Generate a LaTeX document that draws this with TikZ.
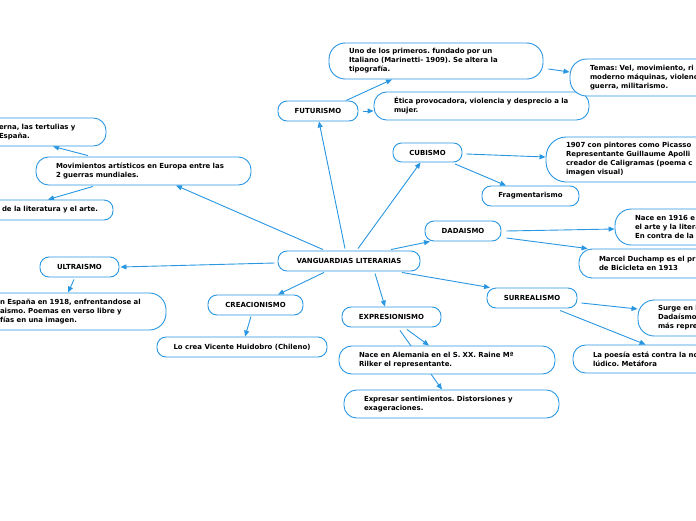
\documentclass[tikz,border=0pt]{standalone}
\usepackage{fontspec}
\setmainfont{DejaVu Sans}[BoldFont={DejaVu Sans Bold}]
\usetikzlibrary{arrows.meta,calc}
\definecolor{mblue}{RGB}{40,150,225}
\pgfdeclarelayer{bg}\pgfsetlayers{bg,main}
\frenchspacing
\tikzset{
  box/.style={draw=mblue, line width=0.9pt, fill=white, inner sep=0pt,
    font=\bfseries\fontsize{6.95}{9}\selectfont, text=black},
  arr/.style={draw=mblue, line width=0.9pt, -{Triangle[length=6pt,width=5pt]}}
}
% left-aligned box: name, x1,y1,x2,y2, text
\newcommand\lbox[6]{%
  \pgfmathsetmacro\cx{(#2+#4)/2}\pgfmathsetmacro\cy{(#3+#5)/2}%
  \pgfmathsetmacro\ww{#4-#2}\pgfmathsetmacro\hh{#5-#3}%
  \pgfmathsetmacro\rr{0.45*(#5-#3)}\pgfmathsetmacro\tw{#4-#2-40}%
  \node[box, minimum width=\ww pt, minimum height=\hh pt, rounded corners=\rr pt,
    text width=\tw pt, align=left] (#1) at (\cx,\cy) {#6};}
% centred box
\newcommand\cbox[6]{%
  \pgfmathsetmacro\cx{(#2+#4)/2}\pgfmathsetmacro\cy{(#3+#5)/2}%
  \pgfmathsetmacro\ww{#4-#2}\pgfmathsetmacro\hh{#5-#3}%
  \pgfmathsetmacro\rr{0.45*(#5-#3)}%
  \node[box, minimum width=\ww pt, minimum height=\hh pt, rounded corners=\rr pt,
    align=center] (#1) at (\cx,\cy) {#6};}
\begin{document}
\begin{tikzpicture}[x=1pt,y=-1pt]
\useasboundingbox (0,0) rectangle (696,520);
\clip (0,0) rectangle (696,520);
\cbox{vang}{278}{251}{420}{271}{VANGUARDIAS LITERARIAS}
\lbox{movi}{36}{157}{251}{185}{Movimientos artísticos en Europa entre las\\2 guerras mundiales.}
\lbox{tl}{-21}{118}{106}{146}{erna, las tertulias y\\España.}
\lbox{bl}{-18}{200}{113}{220}{\mbox{de la literatura y el arte.}}
\cbox{ultra}{40}{257}{119}{277}{ULTRAISMO}
\lbox{ultd}{-20}{293}{166}{330}{n España en 1918, enfrentandose al\\aismo. Poemas en verso libre y\\fías en una imagen.}
\cbox{crea}{208}{295}{303}{315}{CREACIONISMO}
\cbox{huid}{157}{337}{327}{357}{Lo crea Vicente Huidobro (Chileno)}
\cbox{fut}{278}{101}{358}{121}{FUTURISMO}
\lbox{uno}{329}{43}{543}{79}{Uno de los primeros. fundado por un\\Italiano (Marinetti- 1909). Se altera la\\tipografía.}
\lbox{etica}{374}{92}{589}{120}{Ética provocadora, violencia y desprecio a la\\mujer.}
\lbox{temas}{570}{59}{820}{96}{Temas: Vel, movimiento, ri\\moderno máquinas, violenc\\guerra, militarismo.}
\cbox{cub}{393}{143}{462}{162}{CUBISMO}
\lbox{pic}{546}{137}{820}{182}{1907 con pintores como Picasso\\Representante Guillaume Apolli\\creador de Caligramas (poema c\\imagen visual)}
\cbox{frag}{482}{186}{579}{206}{Fragmentarismo}
\cbox{dada}{425}{221}{501}{241}{DADAISMO}
\lbox{nace}{615}{209}{820}{245}{Nace en 1916 e\\el arte y la litera\\En contra de la}
\lbox{marcel}{579}{249}{820}{278}{Marcel Duchamp es el pr\\de Bicicleta en 1913}
\cbox{surr}{487}{288}{577}{308}{SURREALISMO}
\lbox{surge}{638}{300}{820}{336}{Surge en l\\Dadaísmo\\más repre}
\lbox{poesia}{573}{345}{820}{373}{La poesía está contra la no\\lúdico. Metáfora}
\cbox{expr}{342}{307}{441}{327}{EXPRESIONISMO}
\lbox{alem}{339}{346}{555}{374}{Nace en Alemania en el S. XX. Raine Mª\\Rilker el representante.}
\lbox{sent}{344}{390}{559}{418}{Expresar sentimientos. Distorsiones y\\exageraciones.}
\begin{pgfonlayer}{bg}
\draw[arr] ([xshift=-26pt,yshift=1pt]vang.north) -- ([xshift=32.5pt]movi.south);
\draw[arr] ([xshift=-4pt,yshift=2pt]vang.north) -- ([xshift=1pt]fut.south);
\draw[arr] ([xshift=9pt,yshift=2pt]vang.north) -- ([xshift=-7pt]cub.south);
\draw[arr] ([xshift=42pt,yshift=1pt]vang.north) -- ([xshift=-33pt]dada.south);
\draw[arr] ([xshift=53pt,yshift=-1pt]vang.south) -- ([xshift=-42pt]surr.north);
\draw[arr] ([xshift=26pt,yshift=-2pt]vang.south) -- ([xshift=-6.5pt]expr.north);
\draw[arr] ([xshift=-25pt,yshift=-1pt]vang.south) -- ([xshift=22.5pt]crea.north);
\draw[arr] ([xshift=-3pt,yshift=-2pt]vang.west) -- ([xshift=1pt]ultra.east);
\draw[arr] ([xshift=-55.5pt,yshift=1pt]movi.north) -- ([xshift=10.5pt]tl.south);
\draw[arr] ([xshift=-50.5pt,yshift=-1pt]movi.south) -- ([xshift=0.5pt]bl.north);
\draw[arr] ([xshift=-5.5pt,yshift=-2pt]ultra.south) -- ([xshift=-5pt]ultd.north);
\draw[arr] ([xshift=-4.5pt,yshift=-1pt]crea.south) -- ([xshift=3pt]huid.north);
\draw[arr] ([xshift=28pt]fut.north) -- ([xshift=-44pt]uno.south);
\draw[arr] ([xshift=5pt]fut.east) -- ([yshift=-5pt]etica.west);
\draw[arr] ([xshift=5pt,yshift=-8pt]uno.east) -- ([yshift=5.5pt]temas.west);
\draw[arr] ([xshift=4pt,yshift=-1.5pt]cub.east) -- ([yshift=2.5pt]pic.west);
\draw[arr] ([xshift=27.5pt,yshift=-1.5pt]cub.south) -- ([xshift=-24.5pt]frag.north);
\draw[arr] ([xshift=5pt]dada.east) -- ([yshift=-2pt]nace.west);
\draw[arr] ([xshift=5pt,yshift=-7pt]dada.east) -- ([xshift=9pt]marcel.north west);
\draw[arr] ([xshift=4pt,yshift=-5pt]surr.east) -- ([yshift=9pt]surge.west);
\draw[arr] ([xshift=28pt,yshift=-2pt]surr.south) -- ([xshift=73pt]poesia.north west);
\draw[arr] ([xshift=15.5pt,yshift=-2pt]expr.south) -- ([xshift=-18pt]alem.north);
\draw[arr] ([xshift=8.5pt,yshift=-3pt]expr.south) -- ([xshift=-9.5pt]sent.north);
\end{pgfonlayer}
\end{tikzpicture}
\end{document}
